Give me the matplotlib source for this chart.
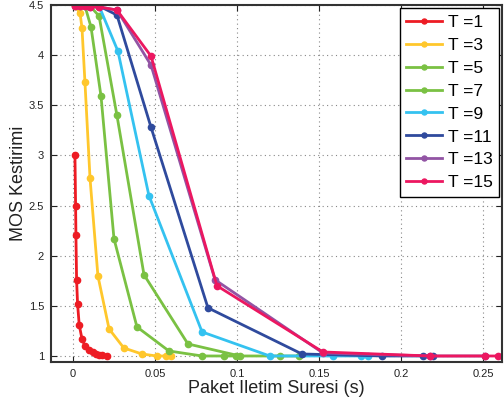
import matplotlib
matplotlib.use("Agg")
import matplotlib.pyplot as plt

plt.rcParams['font.family'] = ['Liberation Sans', 'DejaVu Sans']

labels = ["T =1", "T =3", "T =5", "T =7", "T =9", "T =11", "T =13", "T =15"]
colors = ["#ED1C24", "#FFC72C", "#7AC143", "#7AC143", "#34C2F0", "#2F4A9D", "#9254A4", "#EC1760"]

x1 = [0.0012, 0.0016, 0.0018, 0.0022, 0.0028, 0.0038, 0.0055, 0.0073, 0.0098, 0.012, 0.014, 0.016, 0.018, 0.0205]
y1 = [3.0, 2.5, 2.21, 1.76, 1.52, 1.31, 1.17, 1.10, 1.06, 1.04, 1.02, 1.01, 1.005, 1.0]

x3 = [0.0012, 0.0043, 0.0055, 0.0073, 0.0104, 0.0152, 0.022, 0.031, 0.042, 0.051, 0.057, 0.060]
y3 = [4.49, 4.42, 4.27, 3.73, 2.77, 1.80, 1.27, 1.08, 1.02, 1.0, 1.0, 1.0]

x5 = [0.0073, 0.011, 0.0171, 0.025, 0.039, 0.0585, 0.0787, 0.092, 0.0994]
y5 = [4.49, 4.28, 3.59, 2.17, 1.29, 1.05, 1.0, 1.0, 1.0]

x7 = [0.0104, 0.0159, 0.0268, 0.0433, 0.0701, 0.1018, 0.126, 0.138]
y7 = [4.49, 4.39, 3.40, 1.81, 1.12, 1.0, 1.0, 1.0]

x9 = [0.0159, 0.0274, 0.0463, 0.0787, 0.12, 0.1585, 0.1756, 0.18]
y9 = [4.49, 4.04, 2.60, 1.24, 1.0, 1.0, 1.0, 1.0]

x11 = [0.0159, 0.0268, 0.0476, 0.0823, 0.1396, 0.1884, 0.2134, 0.2195]
y11 = [4.49, 4.40, 3.28, 1.48, 1.02, 1.0, 1.0, 1.0]

x13 = [0.0012, 0.0043, 0.0073, 0.0104, 0.0159, 0.0268, 0.0476, 0.0866, 0.1524, 0.2177, 0.2512]
y13 = [4.49, 4.49, 4.49, 4.48, 4.48, 4.45, 3.90, 1.76, 1.03, 1.0, 1.0]

x15 = [0.0012, 0.0043, 0.0073, 0.0104, 0.0159, 0.0268, 0.0476, 0.0878, 0.1524, 0.2177, 0.2512, 0.2591]
y15 = [4.49, 4.49, 4.49, 4.48, 4.48, 4.45, 3.99, 1.70, 1.04, 1.0, 1.0, 1.0]

xs = [x1, x3, x5, x7, x9, x11, x13, x15]
ys = [y1, y3, y5, y7, y9, y11, y13, y15]

fig = plt.figure(figsize=(5.04, 4.05), dpi=100)
ax = fig.add_axes([51/504, 1-362/405, (502-51)/504, (362-5)/405])

for x, y, c, lab in zip(xs, ys, colors, labels):
    ax.plot(x, y, '-o', color=c, lw=2, ms=4.5, label=lab)

ax.set_xlim(-0.0134, 0.2616)
ax.set_ylim(0.94, 4.5)
ax.set_xticks([0, 0.05, 0.1, 0.15, 0.2, 0.25])
ax.set_xticklabels(["0", "0.05", "0.1", "0.15", "0.2", "0.25"])
ax.set_yticks([1, 1.5, 2, 2.5, 3, 3.5, 4, 4.5])
ax.set_yticklabels(["1", "1.5", "2", "2.5", "3", "3.5", "4", "4.5"])
ax.tick_params(direction='in', top=True, right=True, labelsize=8, length=4, width=0.8, colors='#222222', pad=5)
ax.grid(True, linestyle=(0, (1, 3)), color='#888888', linewidth=0.8)
for s in ax.spines.values():
    s.set_linewidth(1.5)
    s.set_color('#333333')

ax.set_xlabel("Paket Iletim Suresi (s)", fontsize=13, color='#222222', labelpad=1)
ax.set_ylabel("MOS Kestirimi", fontsize=13, color='#222222', labelpad=1)

leg = ax.legend(loc='upper right', fontsize=12.5, frameon=True, fancybox=False,
                edgecolor='black', framealpha=1, handlelength=2.1, handletextpad=0.3,
                labelspacing=0.45, borderpad=0.35, borderaxespad=0.2, markerscale=0.8)
leg.get_frame().set_linewidth(1.0)

fig.savefig("out.png", dpi=100)
